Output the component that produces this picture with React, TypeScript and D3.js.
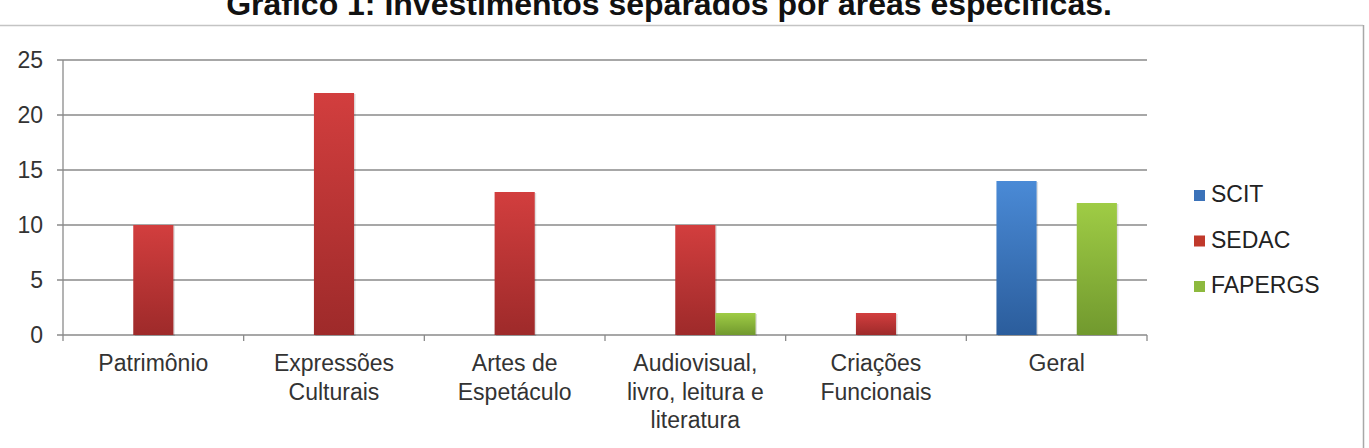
import React from "react";
import * as d3 from "d3";

const categories = [
  ["Patrimônio"],
  ["Expressões", "Culturais"],
  ["Artes de", "Espetáculo"],
  ["Audiovisual,", "livro, leitura e", "literatura"],
  ["Criações", "Funcionais"],
  ["Geral"],
];
const seriesNames = ["SCIT", "SEDAC", "FAPERGS"];
const scit = [0, 0, 0, 0, 0, 14];
const sedac = [10, 22, 13, 10, 2, 0];
const fapergs = [0, 0, 0, 2, 0, 12];
const yTicks = [0, 5, 10, 15, 20, 25];
const title = "Gráfico 1: Investimentos separados por áreas específicas.";

const colors = [
  { top: "#4a8ad6", bottom: "#2b5d9c", legend: "#3b72b9" },
  { top: "#d23e3e", bottom: "#9e2a2a", legend: "#c0392b" },
  { top: "#9fcc45", bottom: "#71992e", legend: "#8db93e" },
];

export default function App() {
  const W = 1369, H = 448;
  const left = 63, right = 1147, top = 60, bottom = 335;
  const values = [scit, sedac, fapergs];
  const catIdx = categories.map((_, i) => String(i));
  const x = d3.scaleBand().domain(catIdx).range([left, right]).paddingInner(0).paddingOuter(0);
  const bw = x.bandwidth();
  const inner = d3.scaleBand().domain(seriesNames).range([0, bw]).paddingInner(0).paddingOuter(0.75);
  const y = d3.scaleLinear().domain([0, 25]).range([bottom, top]);
  const font = "'Liberation Sans', Arial, sans-serif";
  const textColor = "#333";

  return (
    <svg width={W} height={H} style={{ position: "absolute", left: 0, top: 0, background: "#fff" }} fontFamily={font}>
      <defs>
        {colors.map((c, i) => (
          <linearGradient key={i} id={`g${i}`} x1="0" y1="0" x2="0" y2="1">
            <stop offset="0%" stopColor={c.top} />
            <stop offset="100%" stopColor={c.bottom} />
          </linearGradient>
        ))}
      </defs>
      <text x={669} y={15} textAnchor="middle" fontSize={32} fontWeight="bold" fill="#111">{title}</text>
      {/* chart border */}
      <line x1={0} x2={1363} y1={25.5} y2={25.5} stroke="#c4c4c4" strokeWidth={1.5} />
      <line x1={1363.5} x2={1363.5} y1={25} y2={H} stroke="#a8a8a8" strokeWidth={1.5} />
      {/* gridlines */}
      {yTicks.map((t) => (
        <g key={t}>
          <line x1={left - 6} x2={right} y1={y(t)} y2={y(t)} stroke="#8a8a8a" strokeWidth={1.3} />
          <text x={43} y={y(t)} dy="0.35em" textAnchor="end" fontSize={23} fill={textColor}>{t}</text>
        </g>
      ))}
      <line x1={left} x2={left} y1={top} y2={bottom} stroke="#8a8a8a" strokeWidth={1.3} />
      {/* x ticks */}
      {d3.range(categories.length + 1).map((i) => {
        const xx = i < categories.length ? x(String(i))! : right;
        return <line key={i} x1={xx} x2={xx} y1={bottom} y2={bottom + 6} stroke="#8a8a8a" strokeWidth={1.3} />;
      })}
      {/* bars */}
      {values.map((vals, s) =>
        vals.map((v, i) =>
          v > 0 ? (
            <g key={`${s}-${i}`}>
              <rect
                x={x(String(i))! + inner(seriesNames[s])! + 1.5}
                y={y(v) + 1}
                width={inner.bandwidth()}
                height={bottom - y(v)}
                fill="#000"
                opacity={0.12}
              />
              <rect
                x={x(String(i))! + inner(seriesNames[s])!}
                y={y(v)}
                width={inner.bandwidth()}
                height={bottom - y(v)}
                fill={`url(#g${s})`}
              />
            </g>
          ) : null
        )
      )}
      {/* x labels */}
      {categories.map((lines, i) => (
        <text key={i} textAnchor="middle" fontSize={23} fill={textColor}>
          {lines.map((l, j) => (
            <tspan key={j} x={x(String(i))! + bw / 2} y={371 + j * 28.5}>{l}</tspan>
          ))}
        </text>
      ))}
      {/* legend */}
      {seriesNames.map((n, s) => (
        <g key={n}>
          <rect x={1194} y={190 + s * 45.5} width={11} height={11} fill={colors[s].legend} />
          <text x={1211} y={202 + s * 45.5} fontSize={23} fill="#222">{n}</text>
        </g>
      ))}
    </svg>
  );
}
